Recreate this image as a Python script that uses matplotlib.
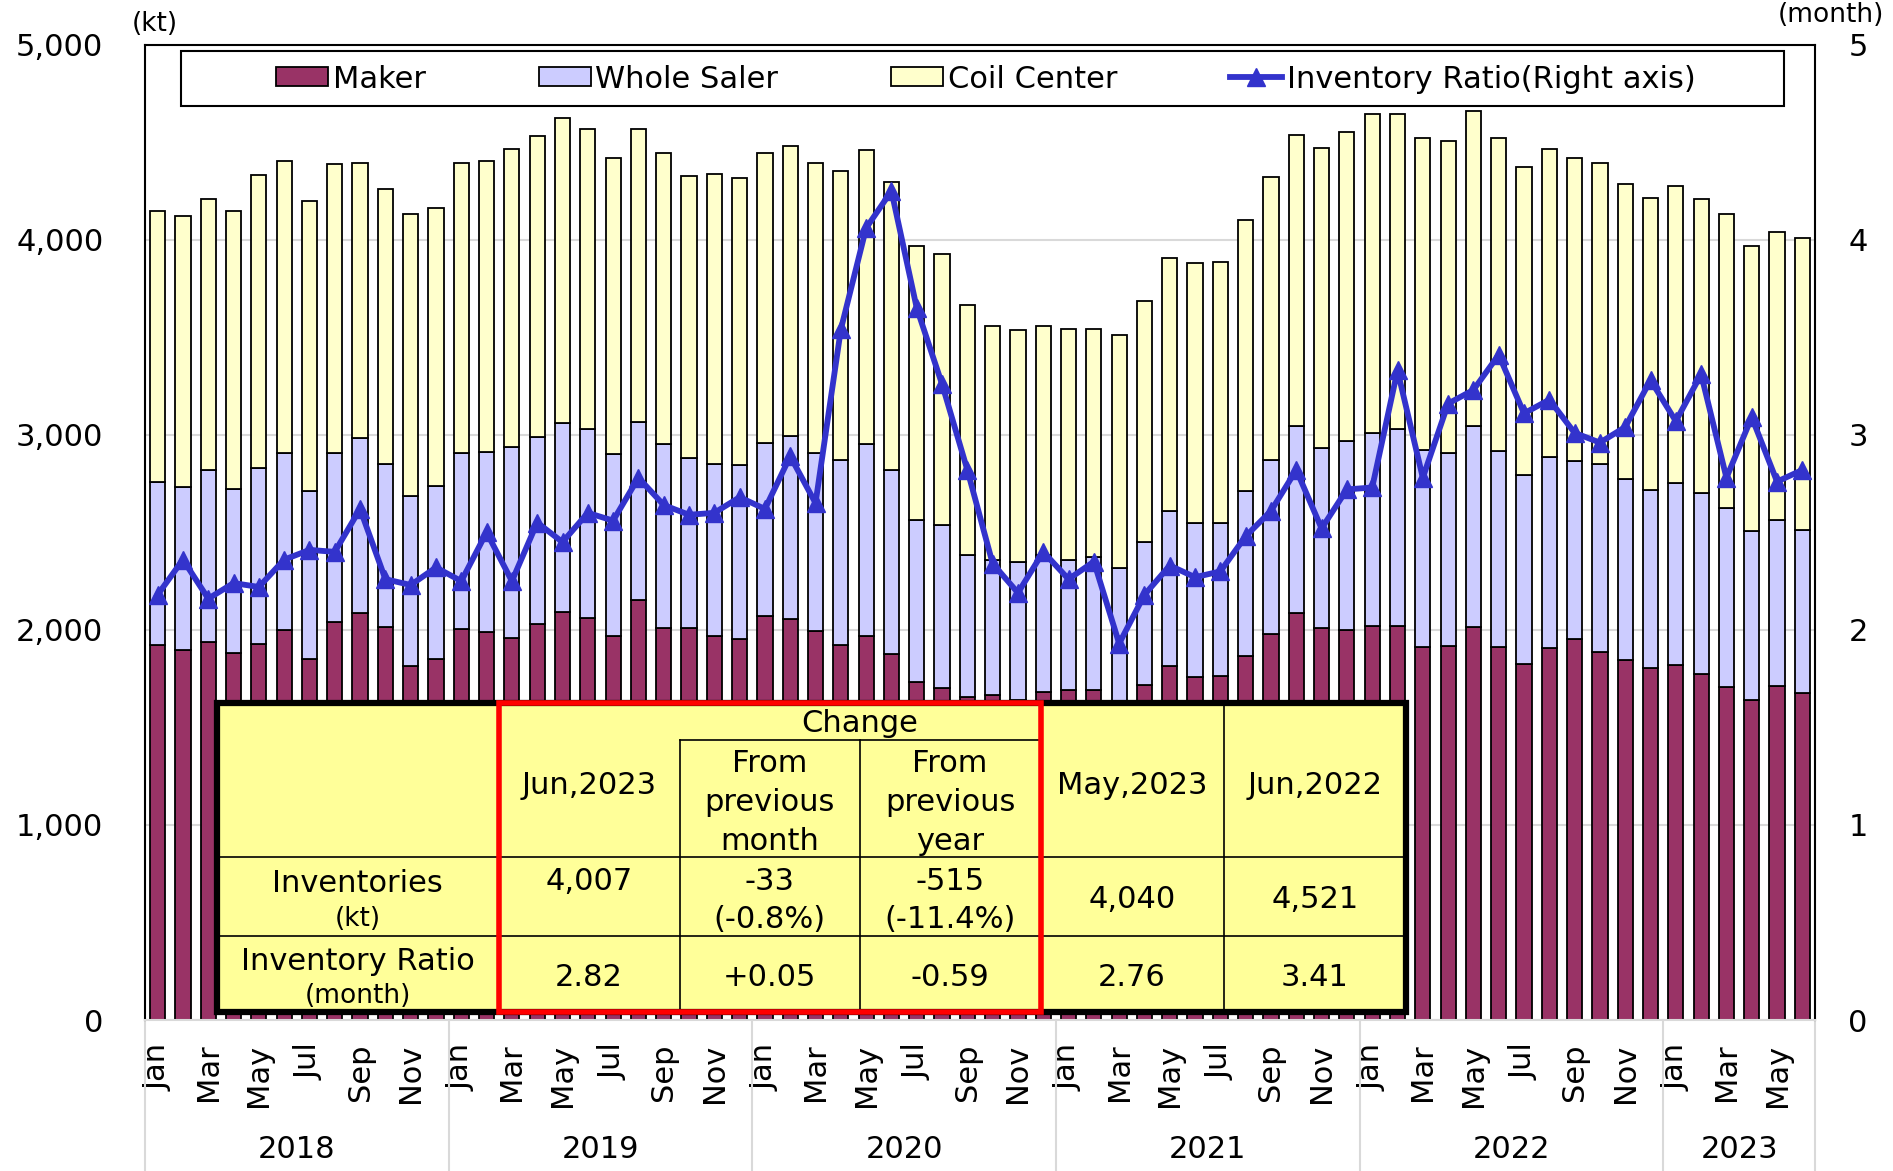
import matplotlib
matplotlib.use("Agg")
import matplotlib.pyplot as plt
import matplotlib.transforms as mtransforms
from matplotlib.patches import Rectangle
from matplotlib.lines import Line2D
import numpy as np

plt.rcParams['font.family'] = ['DejaVu Sans']

# ---------------- data ----------------
years = ['2018', '2019', '2020', '2021', '2022', '2023']
months = ['Jan', 'Feb', 'Mar', 'Apr', 'May', 'Jun', 'Jul', 'Aug', 'Sep', 'Oct', 'Nov', 'Dec']
n_months_per_year = [12, 12, 12, 12, 12, 6]

maker = [1925, 1897, 1938, 1879, 1927, 2000, 1852, 2039, 2088, 2015, 1813, 1853,
         2007, 1987, 1958, 2032, 2092, 2062, 1970, 2152, 2008, 2008, 1968, 1954,
         2072, 2058, 1996, 1922, 1968, 1874, 1733, 1702, 1655, 1665, 1640, 1683,
         1692, 1692, 1620, 1717, 1814, 1756, 1765, 1864, 1980, 2089, 2010, 2000,
         2021, 2021, 1911, 1915, 2014, 1911, 1825, 1907, 1955, 1887, 1845, 1804,
         1819, 1773, 1705, 1639, 1711, 1674]
whole_saler = [833, 834, 884, 841, 901, 908, 860, 866, 897, 837, 874, 885,
               901, 923, 977, 959, 967, 967, 931, 915, 943, 873, 883, 893,
               887, 937, 913, 949, 987, 948, 832, 838, 727, 693, 709, 699,
               668, 681, 697, 734, 797, 794, 781, 850, 892, 956, 920, 969,
               989, 1008, 1011, 990, 1033, 1004, 969, 980, 911, 962, 928, 911,
               934, 928, 920, 870, 852, 839]
coil_center = [1390, 1392, 1387, 1430, 1505, 1495, 1489, 1481, 1409, 1406, 1447, 1427,
               1486, 1495, 1528, 1543, 1563, 1541, 1518, 1499, 1496, 1446, 1484, 1468,
               1484, 1488, 1482, 1480, 1504, 1475, 1405, 1385, 1282, 1202, 1189, 1174,
               1185, 1172, 1193, 1236, 1296, 1333, 1342, 1389, 1448, 1491, 1538, 1582,
               1635, 1616, 1600, 1600, 1613, 1606, 1577, 1577, 1553, 1543, 1512, 1497,
               1521, 1509, 1505, 1460, 1477, 1494]
inventory_ratio = [2.18, 2.36, 2.16, 2.24, 2.22, 2.36, 2.41, 2.40, 2.62, 2.26, 2.23, 2.32,
                   2.25, 2.50, 2.25, 2.55, 2.45, 2.60, 2.56, 2.78, 2.64, 2.59, 2.60, 2.68,
                   2.62, 2.89, 2.65, 3.54, 4.06, 4.25, 3.65, 3.26, 2.82, 2.34, 2.19, 2.40,
                   2.26, 2.35, 1.93, 2.18, 2.33, 2.27, 2.30, 2.48, 2.61, 2.82, 2.52, 2.72,
                   2.73, 3.33, 2.78, 3.16, 3.23, 3.41, 3.11, 3.18, 3.01, 2.96, 3.04, 3.28,
                   3.07, 3.31, 2.78, 3.09, 2.76, 2.82]

# summary table texts
tbl_header = ['', 'Jun,2023', 'From\nprevious\nmonth', 'From\nprevious\nyear', 'May,2023', 'Jun,2022']
tbl_inv = ['4,007', '-33\n(-0.8%)', '-515\n(-11.4%)', '4,040', '4,521']
tbl_ratio = ['2.82', '+0.05', '-0.59', '2.76', '3.41']

# ---------------- figure ----------------
W, H = 1893, 1171
fig = plt.figure(figsize=(W / 100, H / 100), dpi=100)

def fx(px):
    return px / W

def fy(py):
    return 1 - py / H

ax_l, ax_r, ax_t, ax_b = 145, 1815, 44.7, 1020
ax = fig.add_axes([fx(ax_l), fy(ax_b), fx(ax_r - ax_l), (ax_b - ax_t) / H])

x = np.arange(len(maker))
m = np.array(maker)
w = np.array(whole_saler)
c = np.array(coil_center)

C_MAKER = '#993366'
C_WS = '#CCCCFF'
C_CC = '#FFFFCC'
C_LINE = '#3333CC'

bw = 0.6
b1 = ax.bar(x, m, bw, color=C_MAKER, edgecolor='black', linewidth=1.3, zorder=2, label='Maker')
b2 = ax.bar(x, w, bw, bottom=m, color=C_WS, edgecolor='black', linewidth=1.3, zorder=2, label='Whole Saler')
b3 = ax.bar(x, c, bw, bottom=m + w, color=C_CC, edgecolor='black', linewidth=1.3, zorder=2, label='Coil Center')

ax.set_xlim(-0.5, len(maker) - 0.5)
ax.set_ylim(0, 5000)
ax.set_yticks(range(0, 5001, 1000))
ax.set_yticklabels([f'{v:,}' for v in range(0, 5001, 1000)])
ax.yaxis.grid(True, color='#D9D9D9', linewidth=1.5)
ax.set_axisbelow(True)
ax.tick_params(axis='y', length=0, pad=30, labelsize=22)

# month ticks
tick_pos, tick_lab = [], []
i = 0
for yr, nm in zip(years, n_months_per_year):
    for k in range(nm):
        if k % 2 == 0:
            tick_pos.append(i)
            tick_lab.append(months[k])
        i += 1
ax.set_xticks(tick_pos)
ax.set_xticklabels(tick_lab, rotation=90)
ax.tick_params(axis='x', length=0, pad=17, labelsize=22)

for s in ['left', 'top', 'right']:
    ax.spines[s].set_color('black')
    ax.spines[s].set_linewidth(1.5)
ax.spines['bottom'].set_color('#D9D9D9')
ax.spines['bottom'].set_linewidth(1.5)

# year separators & labels
trans = mtransforms.blended_transform_factory(ax.transData, ax.transAxes)
axh = ax_b - ax_t
bounds = [-0.5]
for nm in n_months_per_year:
    bounds.append(bounds[-1] + nm)
for b in bounds:
    ax.plot([b, b], [0, -(H - ax_b) / axh], transform=trans, color='#D9D9D9',
            linewidth=1.5, clip_on=False)
for yr, b0, b1_ in zip(years, bounds[:-1], bounds[1:]):
    ax.text((b0 + b1_) / 2, -(1150 - ax_b) / axh, yr, transform=trans, ha='center',
            va='center', fontsize=22)

# right axis
ax2 = ax.twinx()
ln, = ax2.plot(x, inventory_ratio, color=C_LINE, linewidth=4.2, marker='^', markersize=13,
               label='Inventory Ratio(Right axis)', zorder=5)
ax2.set_ylim(0, 5)
ax2.set_yticks(range(0, 6))
ax2.tick_params(axis='y', length=0, pad=24, labelsize=22)
for s in ['left', 'top', 'right', 'bottom']:
    ax2.spines[s].set_visible(False)

# axis unit labels
fig.text(fx(155), fy(24), '(kt)', ha='center', va='center', fontsize=19)
fig.text(fx(1831), fy(15), '(month)', ha='center', va='center', fontsize=19)

# legend
fig.add_artist(Rectangle((fx(181), fy(106)), fx(1784 - 181), (106 - 51) / H,
                         transform=fig.transFigure, facecolor='white', edgecolor='black',
                         linewidth=1.5, zorder=3))
leg = fig.legend(handles=[b1, b2, b3, ln], loc='center', bbox_to_anchor=(fx(986), fy(79)),
                 ncol=4, frameon=False, fontsize=22, handlelength=1.7, handletextpad=0.15,
                 columnspacing=3.7, handleheight=0.6)
leg.set_zorder(4)

# ---------------- summary table ----------------
cols = [217, 498.6, 679.7, 859.6, 1040.7, 1223.5, 1406]
top, sub, hdr, r2, bot = 703, 740, 857, 936, 1011.5
fill = '#FFFF99'

def rect(x0, y0, x1, y1, **kw):
    r = Rectangle((fx(x0), fy(y1)), fx(x1 - x0), (y1 - y0) / H, transform=fig.transFigure, **kw)
    fig.add_artist(r)

def hline(x0, x1, y, **kw):
    fig.add_artist(Line2D([fx(x0), fx(x1)], [fy(y), fy(y)], transform=fig.transFigure, **kw))

def vline(xx, y0, y1, **kw):
    fig.add_artist(Line2D([fx(xx), fx(xx)], [fy(y0), fy(y1)], transform=fig.transFigure, **kw))

rect(cols[0], top, cols[-1], bot, facecolor=fill, edgecolor='none', zorder=5)
thin = dict(color='black', linewidth=1.2, zorder=6)
hline(cols[2], cols[4], sub, **thin)
hline(cols[0], cols[-1], hdr, **thin)
hline(cols[0], cols[-1], r2, **thin)
vline(cols[1], top, bot, **thin)
vline(cols[2], sub, bot, **thin)
vline(cols[3], sub, bot, **thin)
vline(cols[4], top, bot, **thin)
vline(cols[5], top, bot, **thin)
rect(cols[0], top, cols[-1], bot, facecolor='none', edgecolor='black', linewidth=4.5, zorder=7)
rect(cols[1], top, cols[4], bot, facecolor='none', edgecolor='#FF0000', linewidth=4, zorder=8)

centers = [(cols[k] + cols[k + 1]) / 2 for k in range(6)]
tk = dict(ha='center', va='center', fontsize=22, zorder=9)
lsp = 38.5
fig.text(fx(cols[3]), fy(724), 'Change', **tk)
for k in range(1, 6):
    lines = tbl_header[k].split('\n')
    if len(lines) == 1:
        fig.text(fx(centers[k]), fy(785), lines[0], **tk)
    else:
        for j, t in enumerate(lines):
            fig.text(fx(centers[k]), fy(764 + j * lsp), t, **tk)

fig.text(fx(centers[0]), fy(884), 'Inventories', **tk)
fig.text(fx(centers[0]), fy(919), '(kt)', ha='center', va='center', fontsize=19, zorder=9)
fig.text(fx(centers[0]), fy(961), 'Inventory Ratio', **tk)
fig.text(fx(centers[0]), fy(996), '(month)', ha='center', va='center', fontsize=19, zorder=9)

for k, t in enumerate(tbl_inv):
    lines = t.split('\n')
    if k in (0, 1, 2):
        for j, tt in enumerate(lines):
            fig.text(fx(centers[k + 1]), fy(881 + j * 39), tt, **tk)
    else:
        fig.text(fx(centers[k + 1]), fy(900), t, **tk)

for k, t in enumerate(tbl_ratio):
    fig.text(fx(centers[k + 1]), fy(978), t, **tk)

fig.savefig('out.png', dpi=100)
